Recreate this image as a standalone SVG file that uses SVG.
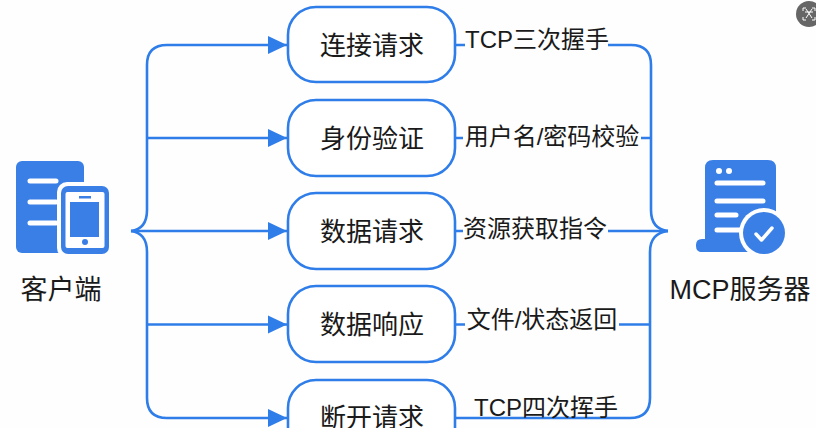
<svg xmlns="http://www.w3.org/2000/svg" width="816" height="428" viewBox="0 0 816 428">
<style>
.c{fill:none;stroke:#2f7de9;stroke-width:2.6}
.n{fill:#fff;stroke:#2f7de9;stroke-width:2.6}
.i{fill:#3a7fe6}
.w{fill:none;stroke:#fff;stroke-width:5;stroke-linecap:round}
text{font-family:"Liberation Sans","Noto Sans CJK SC",sans-serif;fill:#1a1a1a;text-anchor:middle}
.t{font-size:26px}.l{font-size:24px}.b{font-size:27px}
</style>
<defs><marker id="a" markerUnits="userSpaceOnUse" markerWidth="20" markerHeight="20" refX="19" refY="10" orient="auto"><path d="M0 1 19 10 0 19z" fill="#2f7de9"/></marker></defs>
<rect width="816" height="428" fill="#fefefe"/>
<g id="connectors">
<path class="c" d="M131 231Q147 229 147 210V65Q147 45 167 45H287" marker-end="url(#a)"/>
<path class="c" d="M131 231Q147 233 147 252V398Q147 418 167 418H287" marker-end="url(#a)"/>
<path class="c" d="M147 138H287" marker-end="url(#a)"/>
<path class="c" d="M131 231H287" marker-end="url(#a)"/>
<path class="c" d="M147 324.500H287" marker-end="url(#a)"/>
<path class="c" d="M455 45H465M608 45H631Q651 45 651 65V210Q651 229 668 231"/>
<path class="c" d="M455 138H463M641 138H651"/>
<path class="c" d="M455 231H463M608 231H668"/>
<path class="c" d="M668 231Q650 233 650 252V398Q650 418 630 418H455"/>
<path class="c" d="M455 324.500H465M619 324.500H650"/>
</g>
<g id="client">
<rect class="i" x="16" y="161" width="68" height="92" rx="6"/>
<path class="w" d="M30 181H56M30 202H56M30 223H56"/>
<rect x="57" y="182" width="56" height="76" rx="10" fill="#fefefe"/>
<rect class="i" x="61" y="186" width="48" height="68" rx="7"/>
<rect x="65.500" y="192" width="39" height="56" rx="2" fill="#fff"/>
<rect class="i" x="70" y="202" width="29" height="35"/>
<rect class="i" x="79" y="196" width="12" height="2.500"/>
<circle class="i" cx="85" cy="242" r="3"/>
<text class="b" x="61" y="299">客户端</text>
</g>
<g id="node1"><rect class="n" x="288" y="7" width="167" height="75" rx="28"/><text class="t" x="372" y="55">连接请求</text></g>
<g id="node2"><rect class="n" x="288" y="100" width="167" height="76" rx="28"/><text class="t" x="372" y="148">身份验证</text></g>
<g id="node3"><rect class="n" x="288" y="193" width="167" height="76" rx="28"/><text class="t" x="372" y="241">数据请求</text></g>
<g id="node4"><rect class="n" x="288" y="286" width="167" height="76" rx="28"/><text class="t" x="372" y="334">数据响应</text></g>
<g id="node5"><rect class="n" x="288" y="380" width="167" height="76" rx="28"/><text class="t" x="372" y="427">断开请求</text></g>
<g id="labels">
<text class="l" x="537" y="48">TCP三次握手</text>
<text class="l" x="552" y="145">用户名/密码校验</text>
<text class="l" x="535" y="237">资源获取指令</text>
<text class="l" x="542" y="328">文件/状态返回</text>
<text class="l" x="546" y="416">TCP四次挥手</text>
</g>
<g id="server">
<path class="i" d="M705 239V168Q705 160 713 160H768Q776 160 776 168V240H715V252H702Q696 252 696 246V245Q696 239 702 239Z"/>
<path class="i" d="M705 239H776V252H700Z"/>
<circle cx="719" cy="171" r="3" fill="#fff"/><circle cx="729" cy="171" r="3" fill="#fff"/>
<path class="w" d="M717 183H763M717 201H763M717 215H736M717 230H745"/>
<circle cx="764" cy="233" r="25" fill="#fefefe"/>
<circle class="i" cx="764" cy="233" r="21"/>
<path d="M756 234 761.500 240 772 228" fill="none" stroke="#fff" stroke-width="3.500" stroke-linecap="round" stroke-linejoin="round"/>
<text class="b" x="740" y="299">MCP服务器</text>
</g>
<g id="badge">
<circle cx="809" cy="14" r="13" fill="#666"/>
<path d="M803 11V8H806M812 8H815V11M815 17V20H812M806 20H803V17M806 9 812 18M812 9 806 18M805 12H813" fill="none" stroke="#fff" stroke-width="1"/>
</g>
</svg>
